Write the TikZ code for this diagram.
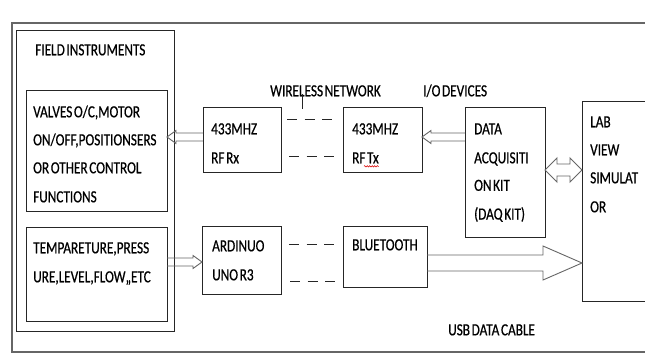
\documentclass[tikz,border=0pt]{standalone}
\usepackage{fontspec}
\setmainfont[FakeStretch=0.78,WordSpace=0.55,FakeBold=0.6]{Carlito}
\usetikzlibrary{calc,decorations.pathmorphing}
\newcommand\hollowarrow[5]{%
  \draw[fat] ($(#1)+(0,-#3)$) -- ($(#2)+(#5,-#3)$) -- ($(#2)+(#5,-#4)$) -- (#2)
    -- ($(#2)+(#5,#4)$) -- ($(#2)+(#5,#3)$) -- ($(#1)+(0,#3)$);}
\begin{document}
\begin{tikzpicture}[x=1pt,y=-1pt,
  box/.style={draw=black!85, line width=0.8pt, anchor=north west, inner sep=0pt, outer sep=0pt},
  frame/.style={draw=black!60, line width=1.3pt},
  txt/.style={anchor=base west, inner sep=0pt, font=\fontsize{17}{20}\selectfont, text=black},
  fat/.style={draw=black!60, line width=0.9pt, line join=miter},
  dash line/.style={draw=black!85, line width=0.9pt, dash pattern=on 10pt off 7.5pt}]
\clip (0,0) rectangle (645,358);
\fill[white] (0,0) rectangle (645,358);
% outer frame
\draw[frame] (12,23) rectangle (660,352);
% boxes
\node[box, minimum width=158pt, minimum height=301pt] (field) at (16,30) {};
\node[box, minimum width=141pt, minimum height=121pt] (valves) at (26,90) {};
\node[box, minimum width=141pt, minimum height=94pt] (temp) at (26,227) {};
\node[box, minimum width=78pt, minimum height=65pt] (rx) at (203,107) {};
\node[box, minimum width=79pt, minimum height=65pt] (tx) at (343,107) {};
\node[box, minimum width=80pt, minimum height=130pt] (daq) at (465,107) {};
\node[box, minimum width=90pt, minimum height=200pt] (lab) at (582,101) {};
\node[box, minimum width=79pt, minimum height=68pt] (ard) at (202,226) {};
\node[box, minimum width=84pt, minimum height=61pt] (bt) at (343,226) {};
% texts
\node[txt] (t0) at (35,55.3) {FIELD INSTRUMENTS};
\node[txt] (v1) at (33,117.3) {VALVES O/C,MOTOR};
\node[txt] (v2) at (33,145.3) {ON/OFF,POSITIONSERS};
\node[txt] (v3) at (33,173.3) {OR OTHER CONTROL};
\node[txt] (v4) at (33,202.3) {FUNCTIONS};
\node[txt] (p1) at (33,253.3) {TEMPARETURE,PRESS};
\node[txt] (p2) at (33,282.3) {URE,LEVEL,FLOW,,ETC};
\node[txt] (r1) at (211,134.3) {433MHZ};
\node[txt] (r2) at (211,163.3) {RF Rx};
\node[txt] (x1) at (352,134.3) {433MHZ};
\node[txt] (x2) at (352,163.3) {RF Tx};
\node[txt] (wn) at (270,96.3) {WIRELESS NETWORK};
\node[txt] (io) at (423,96.3) {I/O DEVICES};
\node[txt] (d1) at (474,134.3) {DATA};
\node[txt] (d2) at (474,163.3) {ACQUISITI};
\node[txt] (d3) at (474,190.8) {ON KIT};
\node[txt] (d4) at (474,219.5) {(DAQ KIT)};
\node[txt] (l1) at (590,127.3) {LAB};
\node[txt] (l2) at (590,155.3) {VIEW};
\node[txt] (l3) at (590,183.3) {SIMULAT};
\node[txt] (l4) at (590,212.3) {OR};
\node[txt] (a1) at (212,251.3) {ARDINUO};
\node[txt] (a2) at (212,280.3) {UNO R3};
\node[txt] (b1) at (352,250.3) {BLUETOOTH};
\node[txt] (usb) at (448,335.3) {USB DATA CABLE};
% spell-check underline
\draw[red!85!black, line width=0.5pt, decorate, decoration={snake, amplitude=0.7pt, segment length=2.5pt}]
  ($(x2.base east)+(-15,3)$) -- ($(x2.base east)+(0,3)$);
% tick at WIRELESS
\coordinate (tk1) at (302,94);
\coordinate (tk2) at (302,109);
\draw[black!85, line width=0.9pt] (tk1) -- (tk2);
% dashed links
\coordinate (ds1) at (287,119); \coordinate (de1) at (332,119);
\coordinate (ds2) at (289,156); \coordinate (de2) at (334,156);
\coordinate (ds3) at (289,244); \coordinate (de3) at (334,244);
\coordinate (ds4) at (290,281); \coordinate (de4) at (335,281);
\draw[dash line] (ds1) -- (de1);
\draw[dash line] (ds2) -- (de2);
\draw[dash line] (ds3) -- (de3);
\draw[dash line] (ds4) -- (de4);
% hollow arrows
\coordinate (rxT) at (rx.west |- 0,137);
\coordinate (vaH) at (valves.east |- 0,137);
\hollowarrow{rxT}{vaH}{4}{6.5}{9}
\coordinate (dqT) at (daq.west |- 0,137);
\coordinate (txH) at (tx.east |- 0,137);
\hollowarrow{dqT}{txH}{4}{6.5}{9}
\coordinate (tpT) at (temp.east |- 0,262);
\coordinate (arH) at (ard.west |- 0,262);
\hollowarrow{tpT}{arH}{4}{6.5}{-9}
\coordinate (btT) at (bt.east |- 0,263);
\coordinate (lbH) at (lab.west |- 0,263);
\hollowarrow{btT}{lbH}{8}{17}{-39}
% double arrow DAQ <-> LabVIEW
\coordinate (dqE) at (daq.east |- 0,170);
\coordinate (lbW) at (lab.west |- 0,170);
\draw[fat] (dqE) -- ($(dqE)+(12,-12)$) -- ($(dqE)+(12,-6)$) -- ($(lbW)+(-12,-6)$) -- ($(lbW)+(-12,-12)$)
  -- (lbW) -- ($(lbW)+(-12,12)$) -- ($(lbW)+(-12,6)$) -- ($(dqE)+(12,6)$) -- ($(dqE)+(12,12)$) -- cycle;
\end{tikzpicture}
\end{document}
